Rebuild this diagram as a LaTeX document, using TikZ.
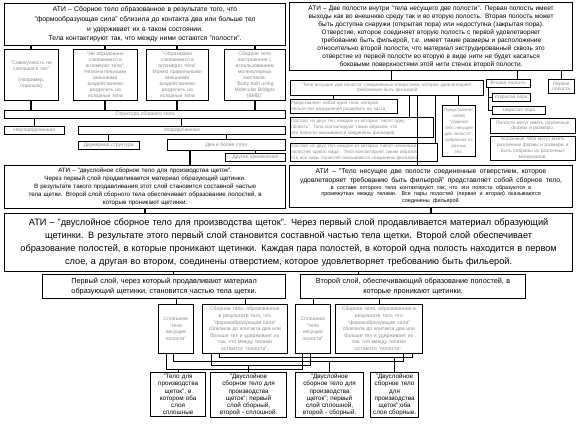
\documentclass[tikz,border=0pt]{standalone}
\usepackage{fontspec}
\setmainfont{Liberation Sans}
\usetikzlibrary{positioning}
\definecolor{AtiGray}{HTML}{8A8A8A}

\begin{document}
\begin{tikzpicture}[x=1pt,y=-1pt,
    mainbox/.style={draw,line width=1.2pt,anchor=north west,align=center,inner sep=1.5pt},
    notebox/.style={draw,line width=0.6pt,anchor=north west,align=center,inner sep=1pt,text=AtiGray},
    heavy/.style={line width=2pt},
    link/.style={line width=0.7pt}]
  \useasboundingbox (0,0) rectangle (576,432);

  % left column: definition and structure
  \node[mainbox,minimum width=281,minimum height=42,text width=277,font=\fontsize{6.8}{9.6}\selectfont] (atiA) at (4,3)
    {АТИ – Сборное тело образованное в результате того, что\\"формообразующая сила" сблизила до контакта два или больше тел\\и удерживает их в таком состоянии.\\Тела контактируют так, что между ними остаются "полости".};
  \node[notebox,minimum width=54,minimum height=51,text width=52,font=\fontsize{5}{6}\selectfont] (setA) at (4,49)
    {"Совокупность не\\слипшихся тел"\\[5pt](например,\\порошок)};
  \node[notebox,minimum width=64,minimum height=51,text width=62,font=\fontsize{5}{6}\selectfont] (setB) at (73,49)
    {"Не образовано\\слипшимися в\\агломерат тела".\\Незначительными\\внешними\\воздействиями\\разделить на\\исходные тела};
  \node[notebox,minimum width=62,minimum height=51,text width=60,font=\fontsize{5}{6}\selectfont] (setC) at (146,49)
    {"Образовано\\слипшимися в\\агломерат тела"\\Можно правильными\\внешними\\воздействиями\\разделить на\\исходные тела};
  \node[notebox,minimum width=61,minimum height=51,text width=59,font=\fontsize{5}{6}\selectfont] (setD) at (224,49)
    {Сборное тело\\построенное с\\использованием\\молекулярных\\мостиков.\\"Body built using\\Molecular Bridges\\(BMB)"};
  \node[notebox,minimum width=281,minimum height=8,text width=279,font=\fontsize{5}{6}\selectfont] (struct) at (4,110) {Структура сборного тела};
  \node[notebox,minimum width=60,minimum height=8,text width=58,font=\fontsize{5}{6}\selectfont] (unord) at (4,126) {Неупорядоченная};
  \node[notebox,minimum width=207,minimum height=8,text width=205,font=\fontsize{5}{6}\selectfont] (ord) at (78,126) {Упорядоченная};
  \node[notebox,minimum width=61,minimum height=8,text width=59,font=\fontsize{5}{6}\selectfont] (flat) at (78,141) {Двумерная структура};
  \node[notebox,minimum width=118,minimum height=11,text width=116,font=\fontsize{5}{6}\selectfont] (layers) at (167,139) {Два и более слоя};
  \node[notebox,minimum width=60,minimum height=8,text width=58,font=\fontsize{5}{6}\selectfont] (other) at (225,153) {Другие применения};
  \node[mainbox,minimum width=281,minimum height=43,text width=277,font=\fontsize{6.2}{7.9}\selectfont] (atiB) at (4,165)
    {АТИ – "двуслойное сборное тело для производства щеток".\\Через первый слой продавливается материал образующий щетинки.\\В результате такого продавливания этот слой становится составной частью\\тела щетки. Второй слой сборного тела обеспечивает образование полостей, в\\которые проникают щетинки.};

  \foreach \s in {setA,setB,setC,setD}{
    \draw[heavy] (\s.north |- atiA.south) -- (\s.north);
    \draw[heavy] (\s.south) -- (\s.south |- struct.north);
  }
  \draw[link] (unord.north |- struct.south) -- (unord.north);
  \draw[link] (ord.north |- struct.south) -- (ord.north);
  \draw[link] (flat.north |- ord.south) -- (flat.north);
  \draw[link] (layers.north |- ord.south) -- (layers.north);
  \draw[link] (other.north |- layers.south) -- (other.north);
  \draw[heavy] ([xshift=-36pt]layers.south) -- ([xshift=-36pt]layers.south |- atiB.north);

  % right column: two cavities
  \node[mainbox,minimum width=283,minimum height=68,text width=279,font=\fontsize{6.5}{8}\selectfont] (atiC) at (289,2)
    {АТИ – Две полости внутри "тела несущего две полости". Первая полость имеет\\выходы как во внешнюю среду так и во вторую полость. Вторая полость может\\быть доступна снаружи (открытая пора) или недоступна (закрытая пора).\\Отверстие, которое соединяет вторую полость с первой удовлетворяет\\требованию быть фильерой, т.е. имеет такие размеры и расположение\\относительно второй полости, что материал экструдированный сквозь это\\отверстие из первой полости во вторую в виде нити не будет касаться\\боковыми поверхностями этой нити стенок второй полости.};
  \node[notebox,minimum width=193,minimum height=15,text width=191,font=\fontsize{4.6}{5.8}\selectfont] (carrier) at (290,80)
    {"Тело несущее две полости" соединенные отверстием, которое удовлетворяет\\требованию быть фильерой};
  \node[notebox,minimum width=44,minimum height=8,text width=42,font=\fontsize{4.8}{5.8}\selectfont] (second) at (486,79) {Вторая полость};
  \node[notebox,minimum width=26,minimum height=14,text width=24,font=\fontsize{4.8}{5.8}\selectfont] (first) at (548,79) {Первая\\полость};
  \node[notebox,minimum width=38,minimum height=8,text width=36,font=\fontsize{4.8}{5.8}\selectfont] (openp) at (492,93) {открытая пора};
  \node[notebox,minimum width=53,minimum height=8,text width=51,font=\fontsize{4.8}{5.8}\selectfont] (closedp) at (492,106) {закрытая пора};
  \node[notebox,align=left,minimum width=107,minimum height=14,text width=105,font=\fontsize{4.6}{5.8}\selectfont] (single) at (290,99)
    {Представляет собой одно тело, которое\\нельзя без разрушения разделить на части};
  \node[notebox,align=left,minimum width=143,minimum height=20,text width=141,font=\fontsize{4.6}{5.8}\selectfont] (pairA) at (290,117)
    {Состоит из двух тел, каждое из которых "несет одну\\полость". Тела контактируют таким образом, что\\эти полости оказываются соединены фильерой};
  \node[notebox,align=left,minimum width=147,minimum height=18,text width=145,font=\fontsize{4.6}{5.6}\selectfont] (pairB) at (290,143)
    {Состоит из двух тел, каждое из которых "несет несколько\\полостей одного вида". Тела контактируют таким образом,\\что все пары полостей оказываются соединены фильерой.};
  \node[notebox,minimum width=33,minimum height=51,text width=31,font=\fontsize{4.4}{6}\selectfont] (assembled) at (442,105)
    {Представляет\\собой\\"сборное\\тело несущее\\две полости",\\собранное из\\разных\\тел.};
  \node[notebox,minimum width=85,minimum height=15,text width=83,font=\fontsize{4.8}{5.8}\selectfont] (shapes) at (490,118)
    {Полости могут иметь различные\\формы и размеры.};
  \node[notebox,minimum width=85,minimum height=24,text width=83,font=\fontsize{4.8}{5.8}\selectfont] (bodies) at (490,136)
    {Указанные тела могут иметь\\различные формы и размеры и\\быть собраны из различных\\материалов.};
  \node[mainbox,minimum width=283,minimum height=42,text width=279] (atiD) at (289,165)
    {{\fontsize{6.8}{8.4}\selectfont АТИ – "Тело несущее две полости соединенные отверстием, которое\\удовлетворяет требованию быть фильерой" представляет собой сборное тело,\par}%
     {\fontsize{5.4}{6.8}\selectfont в составе которого тела контактируют так, что эти полости образуются в\\промежутках между телами. Все пары полостей (первая и вторая) оказываются\\соединены фильерой.\par}};

  \draw[link] ([xshift=5pt]carrier.north |- atiC.south) -- ([xshift=5pt]carrier.north);
  \draw[link] ([xshift=9pt]second.north |- atiC.south) -- ([xshift=9pt]second.north);
  \draw[link] (first.north |- atiC.south) -- (first.north);
  \coordinate (fork) at ([xshift=2pt]second.south west);
  \draw[link] (fork) |- (openp.west);
  \draw[link] (fork) |- (closedp.west);
  \draw[link] (assembled.north |- carrier.south) -- (assembled.north);
  \draw[link] ([xshift=-10pt]single.north |- carrier.south) -- ([xshift=-10pt]single.north);
  \draw[link] ([xshift=48pt]pairA.north |- carrier.south) -- ([xshift=48pt]pairA.north);
  \draw[link] ([xshift=72pt]pairB.north |- carrier.south) -- ([xshift=72pt]pairB.north);
  \draw[link] ([xshift=-41pt]assembled.north |- carrier.south) -- ([xshift=-41pt]assembled.north |- atiD.north);

  % joint definition
  \node[mainbox,minimum width=568,minimum height=58,text width=564,font=\fontsize{9.2}{12.8}\selectfont] (atiE) at (4,213)
    {АТИ – "двуслойное сборное тело для производства щеток". Через первый слой продавливается материал образующий\\щетинки. В результате этого первый слой становится составной частью тела щетки. Второй слой обеспечивает\\образование полостей, в которые проникают щетинки. Каждая пара полостей, в которой одна полость находится в первом\\слое, а другая во втором, соединены отверстием, которое удовлетворяет требованию быть фильерой.};
  \draw[heavy] (atiB.south) -- (atiB.south |- atiE.north);
  \draw[heavy] (atiD.south) -- (atiD.south |- atiE.north);

  \node[mainbox,minimum width=243,minimum height=24,text width=239,font=\fontsize{7.3}{10}\selectfont] (layerA) at (42,274)
    {Первый слой, через который продавливают материал\\образующий щетинки, становится частью тела щетки.};
  \node[mainbox,minimum width=225,minimum height=24,text width=221,font=\fontsize{7.3}{10}\selectfont] (layerB) at (300,274)
    {Второй слой, обеспечивающий образование полостей, в\\которые проникают щетинки.};
  \draw[link] ([xshift=9pt]layerA.north |- atiE.south) -- ([xshift=9pt]layerA.north);
  \draw[link] ([xshift=-55pt]layerB.north |- atiE.south) -- ([xshift=-55pt]layerB.north);

  \node[mainbox,line width=0.8pt,text=AtiGray,minimum width=35,minimum height=49,text width=31,font=\fontsize{5}{6.6}\selectfont] (solidA) at (158,304)
    {Сплошное\\"тело\\несущее\\полости"};
  \node[mainbox,line width=0.8pt,text=AtiGray,minimum width=85,minimum height=49,text width=81,font=\fontsize{5.1}{6.6}\selectfont] (builtA) at (202,304)
    {Сборное тело, образованное\\в результате того, что\\"формообразующая сила"\\сблизила до контакта два или\\больше тел и удерживает их\\так, что между телами\\остаются "полости".};
  \node[mainbox,line width=0.8pt,text=AtiGray,minimum width=35,minimum height=49,text width=31,font=\fontsize{5}{6.6}\selectfont] (solidB) at (295,304)
    {Сплошное\\"тело\\несущее\\полости"};
  \node[mainbox,line width=0.8pt,text=AtiGray,minimum width=87,minimum height=49,text width=83,font=\fontsize{5.1}{6.6}\selectfont] (builtB) at (335,304)
    {Сборное тело, образованное в\\результате того, что\\"формообразующая сила"\\сблизила до контакта два или\\больше тел и удерживает их\\так, что между телами\\остаются "полости".};
  \draw[link] (solidA.north |- layerA.south) -- (solidA.north);
  \draw[link] (builtA.north |- layerA.south) -- (builtA.north);
  \draw[link] (solidB.north |- layerB.south) -- (solidB.north);
  \draw[link] (builtB.north |- layerB.south) -- (builtB.north);

  % four combinations
  \node[mainbox,minimum width=55,minimum height=44,text width=51,font=\fontsize{6.3}{7.2}\selectfont] (comboA) at (150,372)
    {"Тело для\\производства\\щеток", в\\котором оба\\слоя\\сплошные};
  \node[mainbox,minimum width=76,minimum height=44,text width=72,font=\fontsize{6.3}{7.2}\selectfont] (comboB) at (210,372)
    {"Двуслойное\\сборное тело для\\производства\\щеток"; первый\\слой сборный,\\второй - сплошной.};
  \node[mainbox,minimum width=68,minimum height=44,text width=64,font=\fontsize{6.3}{7.2}\selectfont] (comboC) at (295,372)
    {"Двуслойное\\сборное тело для\\производства\\щеток"; первый\\слой сплошной,\\второй - сборный.};
  \node[mainbox,minimum width=48,minimum height=44,text width=44,font=\fontsize{6.3}{7.2}\selectfont] (comboD) at (370,372)
    {"Двуслойное\\сборное тело\\для\\производства\\щеток";оба\\слоя сборные.};

  \coordinate (sa1) at ([xshift=-9.5pt]solidA.south);
  \coordinate (sa2) at ([xshift=-2.5pt]solidA.south);
  \coordinate (ba1) at ([xshift=-33.5pt]builtA.south);
  \coordinate (ba2) at ([xshift=-25.5pt]builtA.south);
  \coordinate (sb1) at ([xshift=-10.5pt]solidB.south);
  \coordinate (sb2) at ([xshift=-2.5pt]solidB.south);
  \coordinate (bb1) at ([xshift=24.5pt]builtB.south);
  \coordinate (bb2) at ([xshift=33.5pt]builtB.south);
  \coordinate (rowA) at (0,369);
  \coordinate (rowB) at (0,365);
  \coordinate (rowC) at (0,361);
  \coordinate (rowD) at (0,357);
  \draw[link] (sa1) |- (rowA -| sb1) -- (sb1);
  \draw[link] (rowA -| comboA.north) -- (comboA.north);
  \draw[link] (ba1) |- (rowB -| sb2) -- (sb2);
  \draw[link] (rowB -| comboB.north) -- (comboB.north);
  \draw[link] (sa2) |- (rowC -| bb1) -- (bb1);
  \draw[link] (rowC -| comboC.north) -- (comboC.north);
  \draw[link] (ba2) |- (rowD -| bb2) -- (bb2);
  \draw[link] (rowD -| comboD.north) -- (comboD.north);
\end{tikzpicture}
\end{document}
